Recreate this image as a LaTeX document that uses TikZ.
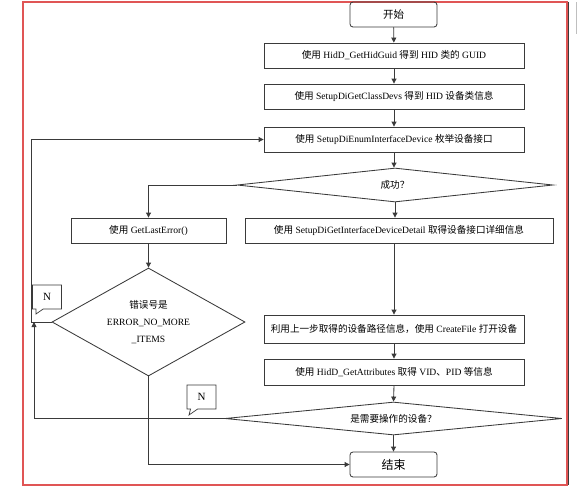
\documentclass[tikz,border=0pt]{standalone}
\usepackage{fontspec}
\setmainfont{Liberation Serif}
\newfontfamily\cjk{Noto Sans CJK SC}
\usetikzlibrary{arrows.meta,shapes.geometric,shapes.callouts}
\newcommand\zh[1]{{\cjk #1}}
\definecolor{ln}{HTML}{3A3A3A}
\definecolor{brd}{HTML}{E05555}
\tikzset{
  box/.style={draw=ln,line width=0.85pt,minimum height=25pt,inner sep=1pt,font=\fontsize{9.6}{11}\selectfont},
  term/.style={box,rounded corners=3pt,minimum width=87pt},
  dia/.style={draw=ln,line width=0.85pt,shape=diamond,inner sep=0pt,font=\fontsize{9.6}{11}\selectfont},
  arr/.style={draw=ln,line width=0.85pt,-{Triangle[length=5pt,width=5pt]}},
  callN/.style={rectangle callout,draw=ln,line width=0.7pt,fill=white,minimum width=29pt,minimum height=24pt,inner sep=0pt,font=\fontsize{11}{13}\selectfont}
}
\begin{document}
\begin{tikzpicture}[x=1pt,y=-1pt]
\useasboundingbox (0,0) rectangle (577,490);
% frame
\draw[brd,line width=1.2pt] (23,2) rectangle (567,485);
\draw[ln,line width=0.8pt] (568.3,2) -- (568.3,485);
\draw[gray!50,line width=0.6pt] (581,2) -- (576,2) -- (576,33) -- (581,33);
% nodes
\node[term,font=\fontsize{10.5}{12}\selectfont] (start) at (393.5,14.5) {\zh{开始}};
\node[box,minimum width=260pt] (b1) at (394,55.5) {\zh{使用} HidD\_GetHidGuid \zh{得到} HID \zh{类的} GUID};
\node[box,minimum width=260pt] (b2) at (394,96.5) {\zh{使用} SetupDiGetClassDevs \zh{得到} HID \zh{设备类信息}};
\node[box,minimum width=260pt] (b3) at (394,139.5) {\zh{使用} SetupDiEnumInterfaceDevice \zh{枚举设备接口}};
\node[dia,aspect=9,minimum width=316pt,minimum height=34pt] (d1) at (395,185) {\zh{成功？}};
\node[box,minimum width=155pt] (gle) at (148.5,230.5) {\zh{使用} GetLastError()};
\node[box,minimum width=308pt] (det) at (399,230.5) {\zh{使用} SetupDiGetInterfaceDeviceDetail \zh{取得设备接口详细信息}};
\node[dia,aspect=1.79,minimum width=193pt,minimum height=108pt,align=center,font=\fontsize{9.6}{17}\selectfont] (ed) at (148.5,322) {\zh{错误号是}\\ERROR\_NO\_MORE\\\_ITEMS};
\node[box,minimum width=260pt,minimum height=28pt] (use) at (394,329) {\zh{利用上一步取得的设备路径信息，使用} CreateFile \zh{打开设备}};
\node[box,minimum width=260pt,minimum height=26pt] (attr) at (394,372) {\zh{使用} HidD\_GetAttributes \zh{取得} VID\zh{、}PID \zh{等信息}};
\node[dia,aspect=10,minimum width=337pt,minimum height=33pt] (d2) at (393.5,418.5) {\zh{是需要操作的设备？}};
\node[term,font=\fontsize{12}{14}\selectfont] (end) at (393.5,464.5) {\zh{结束}};
\coordinate (j) at (34,322);
% connectors
\draw[arr] (start) -- (b1);
\draw[arr] (b1) -- (b2);
\draw[arr] (b2) -- (b3);
\draw[arr] (b3.south) -- (b3.south |- d1.north);
\draw[arr] (d1.south) -- (d1.south |- det.north);
\draw[arr] (d1.west) -| (gle.north);
\draw[arr] (use.north |- det.south) -- (use.north);
\draw[arr] (gle) -- (ed.north);
\draw[arr] (ed.west) -- ++(-20,0) |- (b3.west);
\draw[arr] (d2.west) -| (j);
\draw[arr] (use) -- (attr);
\draw[arr] (attr.south) -- (d2.north);
\draw[arr] (d2.south) -- (end.north);
\draw[arr] (ed.south) |- (end.west);
% callouts
\node[callN,callout absolute pointer={(36,314)}] (n1) at (47,297) {N};
\node[callN,callout absolute pointer={(189,415)}] (n2) at (201.5,397) {N};
\end{tikzpicture}
\end{document}
